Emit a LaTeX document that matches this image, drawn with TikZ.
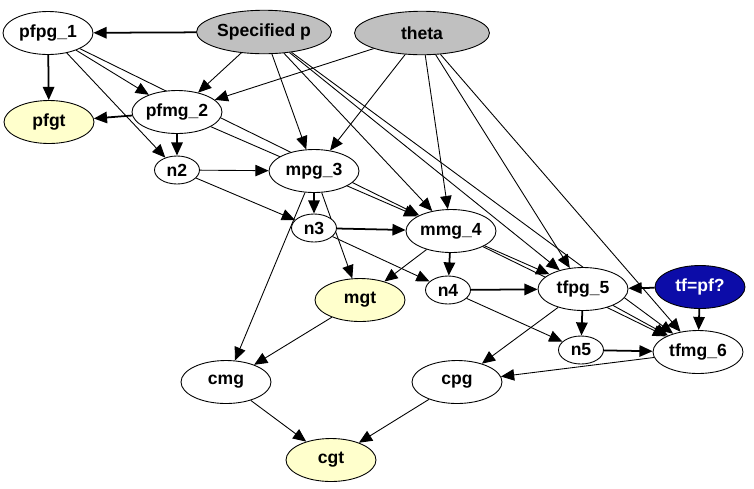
\documentclass[tikz,border=0pt]{standalone}
\usepackage{fontspec}
\setmainfont{Liberation Sans}
\usetikzlibrary{shapes.geometric, arrows.meta, backgrounds}
\definecolor{hgrey}{RGB}{192,192,192}
\definecolor{hyellow}{RGB}{255,255,204}
\definecolor{hblue}{RGB}{12,12,168}
\tikzset{
	var/.style={ellipse, draw, fill=white, line width=0.5pt, minimum width=1.8cm, minimum height=0.86cm, inner sep=0pt, font=\bfseries},
	aux/.style={var, minimum width=0.9cm, minimum height=0.56cm},
	given/.style={var, fill=hgrey, minimum width=2.7cm, minimum height=0.87cm},
	goal/.style={var, fill=hyellow},
	query/.style={var, fill=hblue, text=white},
	arc/.style={-{Triangle[length=7.5pt, width=6.5pt]}, line width=0.5pt},
	thickarc/.style={arc, line width=1pt},
}

\begin{document}
\begin{tikzpicture}[x=0.02cm, y=-0.02cm]
	% Nodes and arcs (pixel grid, y down):
	\useasboundingbox (0, 0) rectangle (754, 488);
	\node[var] (pfpg1) at (48, 33){pfpg\_1};
	\node[given] (spec) at (264, 32){Specified p};
	\node[given] (theta) at (422, 33){theta};
	\node[goal] (pfgt) at (49, 122){pfgt};
	\node[var] (pfmg2) at (177, 112){pfmg\_2};
	\node[aux] (n2) at (177, 170){n2};
	\node[var] (mpg3) at (314, 171){mpg\_3};
	\node[aux] (n3) at (314, 228){n3};
	\node[var] (mmg4) at (451, 231){mmg\_4};
	\node[goal] (mgt) at (360, 300){mgt};
	\node[aux] (n4) at (448, 290){n4};
	\node[var] (tfpg5) at (583, 289){tfpg\_5};
	\node[query] (tfpf) at (700, 287){tf=pf?};
	\node[aux] (n5) at (581, 350){n5};
	\node[var] (tfmg6) at (698, 352){tfmg\_6};
	\node[var] (cmg) at (226, 382){cmg};
	\node[var] (cpg) at (457, 382){cpg};
	\node[goal] (cgt) at (331, 460){cgt};
	\begin{scope}[on background layer]
		\draw[thickarc] (spec) -- (pfpg1);
		\draw[thickarc] (pfpg1) -- (pfgt);
		\draw[thickarc] (pfmg2) -- (pfgt);
		\draw[thickarc] (pfmg2) -- (n2);
		\draw[thickarc] (mpg3) -- (n3);
		\draw[thickarc] (n3) -- (mmg4);
		\draw[thickarc] (mmg4) -- (n4);
		\draw[thickarc] (n4) -- (tfpg5);
		\draw[thickarc] (tfpg5) -- (n5);
		\draw[thickarc] (n5) -- (tfmg6);
		\draw[thickarc] (tfpf) -- (tfpg5);
		\draw[thickarc] (tfpf) -- (tfmg6);
		\draw[arc] (pfpg1) -- (pfmg2);
		\draw[arc] (pfpg1) -- (n2);
		\draw[arc] (pfpg1) -- (mmg4);
		\draw[arc] (spec) -- (pfmg2);
		\draw[arc] (theta) -- (pfmg2);
		\draw[arc] (pfmg2) -- (mmg4);
		\draw[arc] (n2) -- (mpg3);
		\draw[arc] (n2) -- (n3);
		\draw[arc] (spec) -- (mpg3);
		\draw[arc] (theta) -- (mpg3);
		\draw[arc] (spec) -- (mmg4);
		\draw[arc] (theta) -- (mmg4);
		\draw[arc] (spec) -- (tfpg5);
		\draw[arc] (spec) -- (tfmg6);
		\draw[arc] (theta) -- (tfpg5);
		\draw[arc] (theta) -- (tfmg6);
		\draw[arc] (n3) -- (n4);
		\draw[arc] (mpg3) -- (mgt);
		\draw[arc] (mmg4) -- (mgt);
		\draw[arc] (mmg4) -- (tfpg5);
		\draw[arc] (mmg4) -- (tfmg6);
		\draw[arc] (n4) -- (n5);
		\draw[arc] (tfpg5) -- (tfmg6);
		\draw[arc] (mpg3) -- (cmg);
		\draw[arc] (mgt) -- (cmg);
		\draw[arc] (tfpg5) -- (cpg);
		\draw[arc] (tfmg6) -- (cpg);
		\draw[arc] (cmg) -- (cgt);
		\draw[arc] (cpg) -- (cgt);
	\end{scope}
\end{tikzpicture}
\end{document}
